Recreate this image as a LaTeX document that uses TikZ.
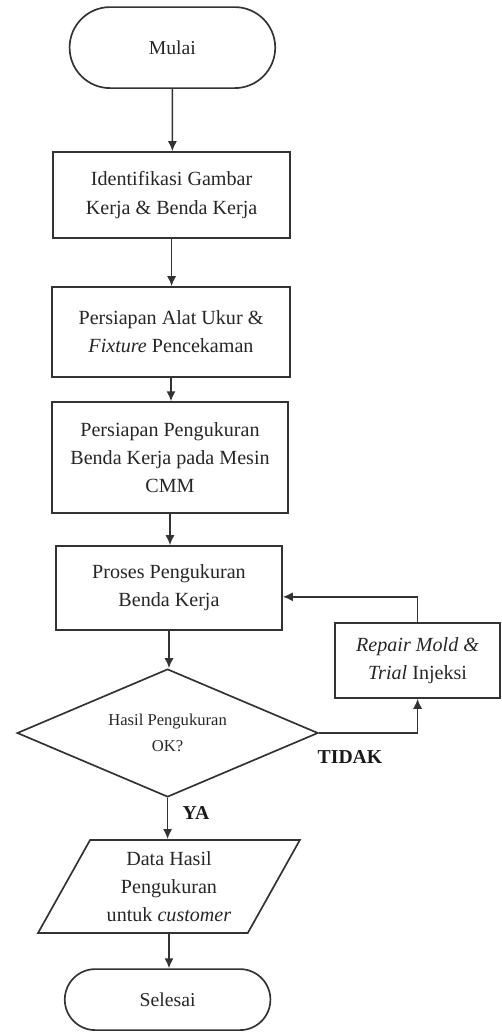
\documentclass[tikz,border=0pt]{standalone}
\usepackage{fontspec}
\setmainfont{Liberation Serif}
\usetikzlibrary{arrows,arrows.meta,shapes,positioning,calc}

\tikzset{
	garis/.style={draw=black!80,line width=1.2pt},
	terminal/.style={garis,shape=rounded rectangle,minimum width=5.375cm,text=black!85,font=\fontsize{14}{19}\selectfont},
	proses/.style={garis,shape=rectangle,align=center,text=black!85,font=\fontsize{14.3}{20}\selectfont},
	keputusan/.style={garis,shape=diamond,aspect=2.35,inner sep=0pt,minimum width=7.525cm,minimum height=3.2cm,align=center,text=black!85,font=\fontsize{11.8}{18}\selectfont},
	dataio/.style={garis,shape=trapezium,trapezium left angle=61,trapezium right angle=119,trapezium stretches=true,minimum width=6.55cm,minimum height=2.325cm,align=center,text=black!85,font=\fontsize{14.3}{20}\selectfont},
	ket/.style={text=black!90,font=\fontsize{14}{16}\selectfont\bfseries}
}

\begin{document}
\begin{tikzpicture}[>={Latex[length=2.5mm,width=2.3mm]}]
	\useasboundingbox (0,0) rectangle (12.55,-25.85);
	\node[terminal,minimum height=2.025cm](mulai) at (4.31,-1.19) {Mulai};
	\node[proses,minimum width=5.925cm,minimum height=2.15cm](kerja) at (4.29,-4.875) {Identifikasi Gambar\\Kerja \& Benda Kerja};
	\node[proses,minimum width=5.95cm,minimum height=2.25cm](siap) at (4.275,-8.3) {Persiapan Alat Ukur \&\\\textit{Fixture} Pencekaman};
	\node[proses,minimum width=5.9cm,minimum height=2.775cm](cmm) at (4.25,-11.44) {Persiapan Pengukuran\\Benda Kerja pada Mesin\\CMM};
	\node[proses,minimum width=5.65cm,minimum height=2.1cm](ukur) at (4.225,-14.7) {Proses Pengukuran\\Benda Kerja};
	\node[proses,minimum width=4.125cm,minimum height=1.875cm](repair) at (10.44,-16.51) {\textit{Repair Mold \&}\\\textit{Trial} Injeksi};
	\node[keputusan](cek) at (4.19,-18.325) {Hasil Pengukuran\\OK?};
	\node[dataio](hasil) at (4.225,-22.16) {Data Hasil\\Pengukuran\\untuk \textit{customer}};
	\node[terminal,minimum height=1.525cm](selesai) at (4.19,-24.99) {Selesai};
	\node[ket](tidak) at (8.75,-18.93) {TIDAK};
	\node[ket](ya) at (4.9,-20.33) {YA};
	% alur utama
	\draw[garis,->] (mulai) -- (mulai |- kerja.north);
	\draw[garis,->] (kerja) -- (kerja |- siap.north);
	\draw[garis,->] (siap) -- (siap |- cmm.north);
	\draw[garis,->] (cmm) -- (cmm |- ukur.north);
	\draw[garis,->] (ukur) -- (ukur |- cek.north);
	\draw[garis,->] (cek) -- (cek |- hasil.north);
	\draw[garis,->] (hasil) -- (hasil |- selesai.north);
	% perbaikan
	\draw[garis,->] (cek.east) -| (repair.south);
	\draw[garis,->] (repair.north) |- ([yshift=-0.22cm]ukur.east);
\end{tikzpicture}
\end{document}
